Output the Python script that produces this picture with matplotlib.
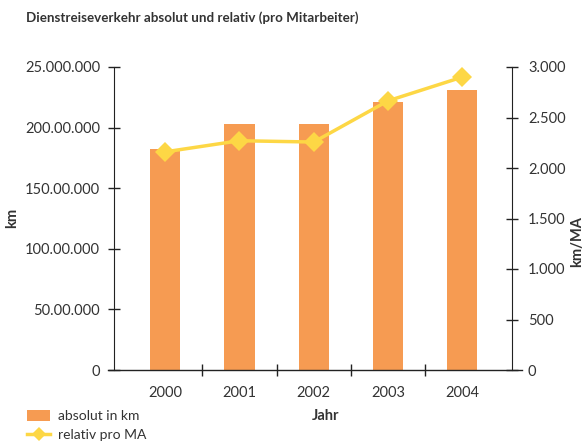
import matplotlib
matplotlib.use("Agg")
import matplotlib.pyplot as plt
from matplotlib.lines import Line2D
from matplotlib.patches import Patch
import numpy as np

plt.rcParams['font.family'] = ['Lato', 'DejaVu Sans']

years = ["2000", "2001", "2002", "2003", "2004"]
absolute_km = [182e6, 203e6, 203e6, 221e6, 231e6]
relative_km_ma = [2160, 2270, 2257, 2665, 2900]
left_ticks = [0, 50e6, 100e6, 150e6, 200e6, 250e6]
left_labels = ["0", "50.00.000", "100.00.000", "150.00.000", "200.00.000", "25.000.000"]
right_ticks = [0, 500, 1000, 1500, 2000, 2500, 3000]
right_labels = ["0", "500", "1.000", "1.500", "2.000", "2.500", "3.000"]

bar_color = "#F69B52"
line_color = "#FDD745"
text_color = "#333333"

fig = plt.figure(figsize=(5.84, 4.46), dpi=100)
W, H = 584, 446
ax = fig.add_axes([114 / W, 1 - 370 / H, (512 - 114) / W, (370 - 67) / H])
ax2 = ax.twinx()

x = np.arange(len(years))
ax.bar(x, absolute_km, width=0.41, color=bar_color, zorder=2)
ax2.plot(x, relative_km_ma, color=line_color, lw=2.5, marker="D", markersize=10,
         markeredgewidth=0, zorder=3)

ax.set_xlim(-0.69, 4.67)
ax.set_ylim(0, 250e6)
ax2.set_ylim(0, 3000)

ax.set_yticks(left_ticks)
ax.set_yticklabels(left_labels)
ax2.set_yticks(right_ticks)
ax2.set_yticklabels(right_labels)

ax.set_xticks(x)
ax.set_xticklabels(years)
ax.set_xticks(np.arange(0.5, 4.0, 1.0), minor=True)
ax.tick_params(axis="x", which="major", length=0, pad=11.5, labelsize=10.5, labelcolor=text_color)
ax.tick_params(axis="x", which="minor", direction="inout", length=8.6, width=1, color="#222222")
ax.tick_params(axis="y", direction="inout", length=8.6, width=1, pad=5.7, labelsize=10.5,
               labelcolor=text_color, color="#222222")
ax2.tick_params(axis="y", direction="inout", length=8.6, width=1, pad=7.2, labelsize=10.5,
                labelcolor=text_color, color="#222222")

for a in (ax, ax2):
    a.spines["top"].set_visible(False)
    a.spines["bottom"].set_visible(False)
    a.spines["left"].set_color("#222222")
    a.spines["right"].set_color("#222222")
    a.patch.set_visible(False)
ax2.spines["left"].set_visible(False)
ax.spines["right"].set_visible(False)

# extended x axis line
ax.plot([-6 / 398, 1 + 10 / 398], [0, 0], transform=ax.transAxes, color="#222222",
        lw=1, clip_on=False, zorder=4)

fig.text(26 / W, 1 - 18 / H, "Dienstreiseverkehr absolut und relativ (pro Mitarbeiter)",
         fontsize=9.6, fontweight="bold", color=text_color, va="center", ha="left")
fig.text(12 / W, 1 - 218 / H, "km", fontsize=10.5, fontweight="bold", color=text_color,
         rotation=90, va="center", ha="center")
fig.text(577 / W, 1 - 242 / H, "km/MA", fontsize=10.5, fontweight="bold", color=text_color,
         rotation=90, va="center", ha="center")
fig.text(326 / W, 1 - 416 / H, "Jahr", fontsize=10.5, fontweight="bold", color=text_color,
         va="center", ha="center")

handles = [Patch(facecolor=bar_color, edgecolor="none", label="absolut in km"),
           Line2D([0], [0], color=line_color, lw=2.5, marker="D", markersize=7,
                  markeredgewidth=0, label="relativ pro MA")]
fig.legend(handles=handles, loc="upper left", bbox_to_anchor=(16 / W, 1 - 399 / H),
           frameon=False, fontsize=10, handlelength=1.65, handleheight=0.78,
           handletextpad=0.55, labelspacing=0.5, borderpad=0.3, labelcolor=text_color)

fig.savefig("out.png", dpi=100)
